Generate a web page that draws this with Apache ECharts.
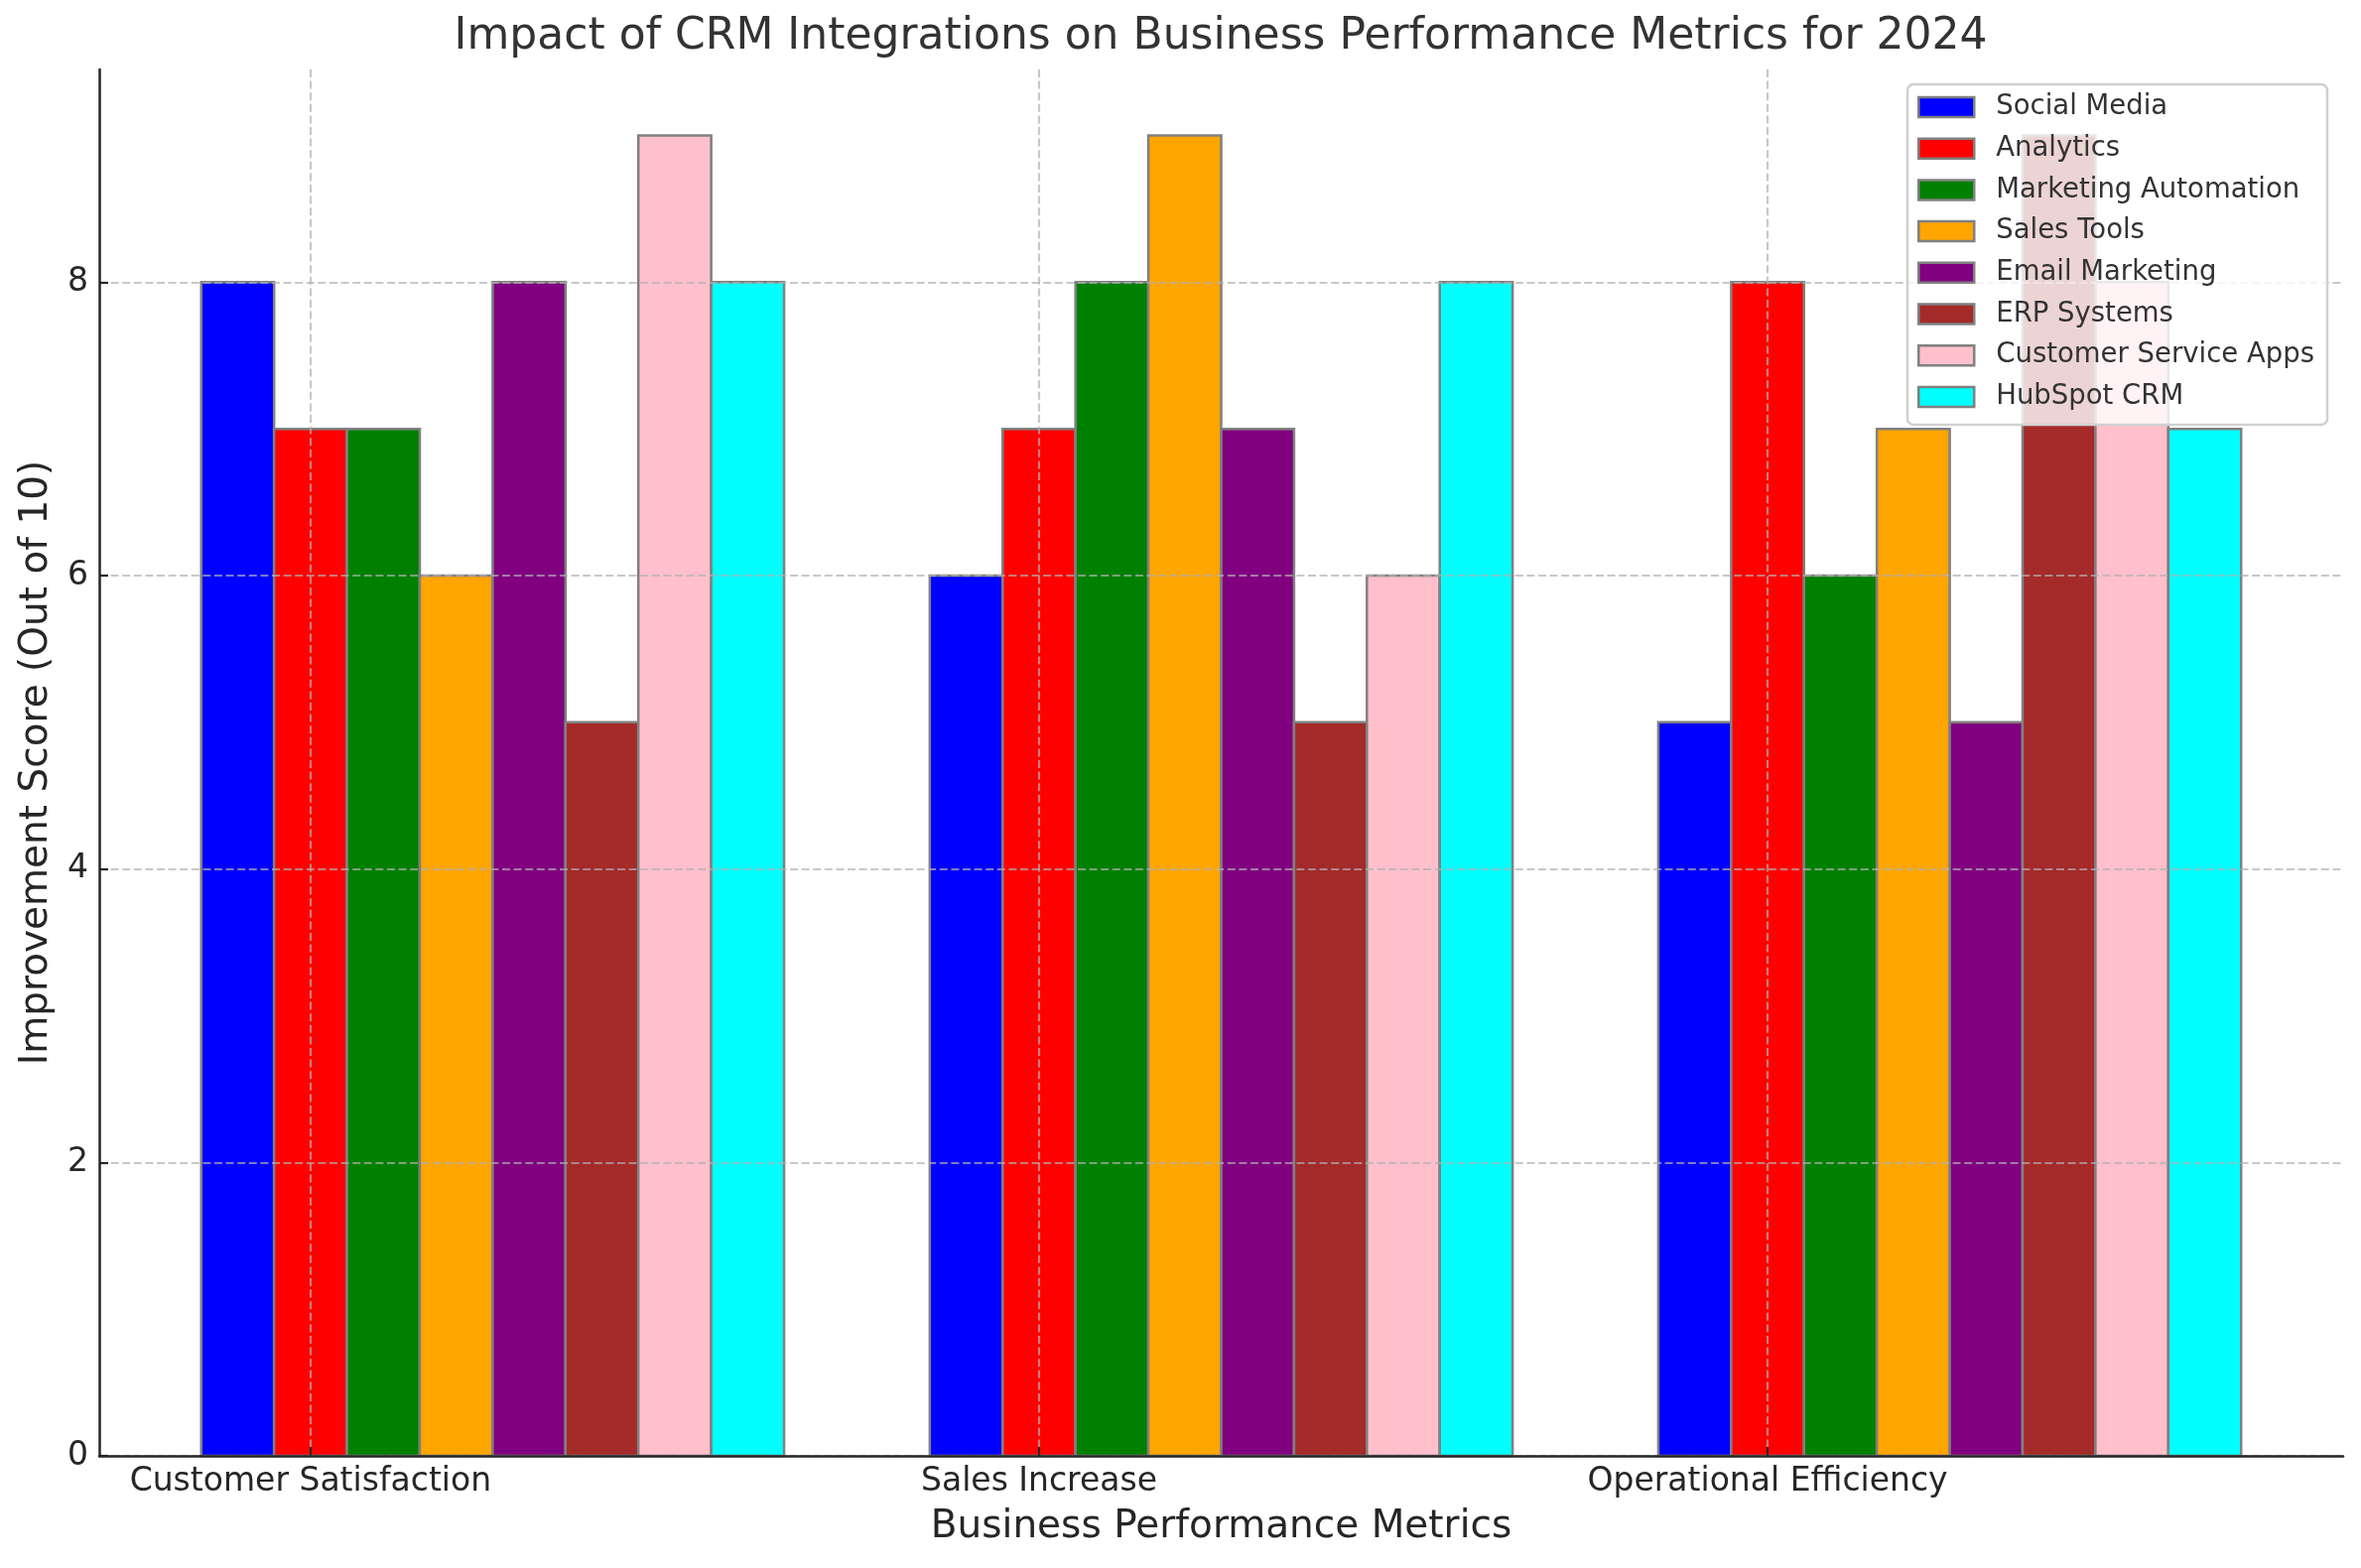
<!DOCTYPE html>
<html>
<head>
<meta charset="utf-8">
<script src="https://cdn.jsdelivr.net/npm/echarts@6/dist/echarts.min.js"></script>
<style>
  html, body { margin: 0; padding: 0; background: #fff; }
  #chart { width: 2379px; height: 1580px; }
</style>
</head>
<body>
<div id="chart"></div>
<script>
const metrics = ['Customer Satisfaction', 'Sales Increase', 'Operational Efficiency'];
const integrations = ['Social Media', 'Analytics', 'Marketing Automation', 'Sales Tools',
  'Email Marketing', 'ERP Systems', 'Customer Service Apps', 'HubSpot CRM'];
const colorHex = ['#0000ff', '#ff0000', '#008000', '#ffa500', '#800080', '#a52a2a', '#ffc0cb', '#00ffff'];

// scores per integration, one value per metric
const socialMedia = [8, 6, 5];
const analytics = [7, 7, 8];
const marketingAutomation = [7, 8, 6];
const salesTools = [6, 9, 7];
const emailMarketing = [8, 7, 5];
const erpSystems = [5, 5, 9];
const customerServiceApps = [9, 6, 8];
const hubspotCrm = [8, 8, 7];
const scores = [socialMedia, analytics, marketingAutomation, salesTools,
  emailMarketing, erpSystems, customerServiceApps, hubspotCrm];

const yTicks = [0, 2, 4, 6, 8];
const barWidth = 0.1;
const font = 'DejaVu Sans';
const ink = '#262626';

const chart = echarts.init(document.getElementById('chart'));

function renderBar(params, api) {
  const center = api.value(0) + (params.seriesIndex - 1) * barWidth;
  const p0 = api.coord([center - barWidth / 2, 0]);
  const p1 = api.coord([center + barWidth / 2, api.value(1)]);
  return {
    type: 'rect',
    shape: { x: p0[0], y: p1[1], width: p1[0] - p0[0], height: p0[1] - p1[1] },
    style: { fill: api.visual('color'), stroke: '#808080', lineWidth: 2.5 }
  };
}

const series = integrations.map((name, i) => ({
  name: name,
  type: 'custom',
  renderItem: renderBar,
  itemStyle: { color: colorHex[i] },
  encode: { x: 0, y: 1 },
  data: scores[i].map((v, g) => [g, v]),
  z: 2
}));

const gridLine = {
  show: true,
  lineStyle: { color: 'rgba(176,176,176,0.7)', width: 2.2, type: [8, 3.6] }
};

const option = {
  backgroundColor: '#fff',
  animation: false,
  title: {
    text: 'Impact of CRM Integrations on Business Performance Metrics for 2024',
    left: 1230, textAlign: 'center', top: 16, padding: 0,
    textStyle: { fontFamily: font, fontSize: 44, fontWeight: 'normal', color: '#333333' }
  },
  legend: {
    orient: 'vertical',
    left: 1922, top: 85,
    padding: [9, 13, 14, 10],
    itemWidth: 56, itemHeight: 20, itemGap: 13.7,
    icon: 'rect',
    backgroundColor: 'rgba(255,255,255,0.8)',
    borderColor: '#d0d0d0', borderWidth: 2.5, borderRadius: 6,
    textStyle: { fontFamily: font, fontSize: 27.5, color: '#333333', lineHeight: 28, padding: [0, 0, 0, 17] },
    data: integrations.map((name, i) => ({
      name: name,
      itemStyle: { color: colorHex[i], borderColor: '#808080', borderWidth: 2.5 }
    })),
    z: 5
  },
  grid: { left: 100, right: 18, top: 70, bottom: 113 },
  xAxis: {
    type: 'value',
    min: -0.29, max: 2.79,
    z: 3,
    name: 'Business Performance Metrics',
    nameLocation: 'middle', nameGap: 52,
    nameTextStyle: { fontFamily: font, fontSize: 39, color: ink },
    axisLine: { show: true, onZero: false, lineStyle: { color: ink, width: 2.5 } },
    axisTick: { show: true, inside: true, length: 9, customValues: [0, 1, 2], lineStyle: { color: ink, width: 2.2 } },
    axisLabel: {
      customValues: [0, 1, 2], margin: 10,
      fontFamily: font, fontSize: 33, color: ink,
      formatter: v => metrics[Math.round(v)]
    },
    splitLine: gridLine
  },
  yAxis: {
    type: 'value',
    min: 0, max: 9.45,
    z: 3,
    name: 'Improvement Score (Out of 10)',
    nameLocation: 'middle', nameGap: 44,
    nameTextStyle: { fontFamily: font, fontSize: 39, color: ink },
    axisLine: { show: true, onZero: false, lineStyle: { color: ink, width: 2.5 } },
    axisTick: { show: true, inside: true, length: 9, customValues: yTicks, lineStyle: { color: ink, width: 2.2 } },
    axisLabel: {
      customValues: yTicks, margin: 11,
      fontFamily: font, fontSize: 33, color: ink
    },
    splitLine: gridLine
  },
  series: series
};

chart.setOption(option);
</script>
</body>
</html>
